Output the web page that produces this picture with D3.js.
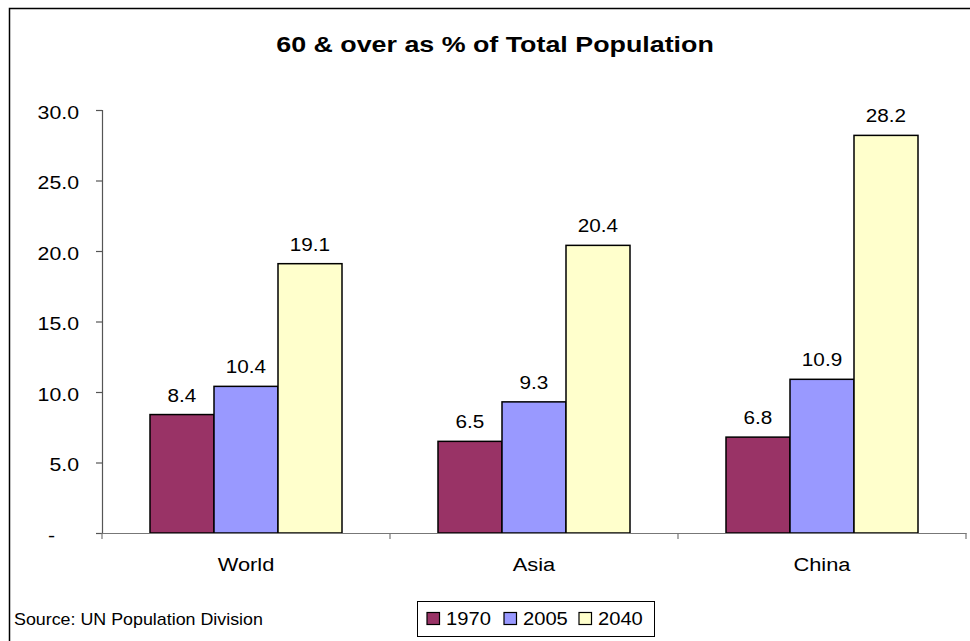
<!DOCTYPE html>
<html>
<head>
<meta charset="utf-8">
<script src="https://cdn.jsdelivr.net/npm/d3@7"></script>
<style>
  html, body { margin: 0; padding: 0; background: #fff; }
  svg { display: block; font-family: "Liberation Sans", Arial, sans-serif; }
</style>
</head>
<body>
<svg id="chart" width="970" height="641"></svg>
<script>
// Share of population aged 60 and over, by region and year
const regions = ["World", "Asia", "China"];
const years = ["1970", "2005", "2040"];
const values1970 = [8.4, 6.5, 6.8];
const values2005 = [10.4, 9.3, 10.9];
const values2040 = [19.1, 20.4, 28.2];
const yTicks = [0, 5, 10, 15, 20, 25, 30];
const colors = ["#993366", "#9999FF", "#FFFFCC"];

const seriesValues = [values1970, values2005, values2040];

const svg = d3.select("#chart");
const W = 970, H = 641;

// widen text horizontally around a chosen anchor point
function stretch(sel, sx, origin) {
  sel.style("transform-box", "fill-box")
     .style("transform-origin", origin)
     .style("transform", `scaleX(${sx})`);
}

// outer frame
svg.append("rect")
  .attr("x", 9.5).attr("y", 8.5)
  .attr("width", W).attr("height", H)
  .attr("fill", "none").attr("stroke", "#000").attr("stroke-width", 1.5);

const plot = { left: 102, right: 966, top: 110, bottom: 533 };

const x0 = d3.scaleBand().domain(regions).range([plot.left, plot.right]).paddingInner(0).paddingOuter(0);
const x1 = d3.scaleBand().domain(years).range([0, x0.bandwidth()]).paddingInner(0).paddingOuter(0.75);
const y = d3.scaleLinear().domain([0, 30]).range([plot.bottom, plot.top]);

// title
svg.append("text")
  .attr("x", 495).attr("y", 52)
  .attr("text-anchor", "middle")
  .attr("font-size", 22).attr("font-weight", "bold")
  .text("60 & over as % of Total Population")
  .call(stretch, 1.22, "center");

// y axis (zero shown as an accounting dash)
const yAxis = d3.axisLeft(y).tickValues(yTicks).tickSize(6).tickPadding(17)
  .tickFormat(d => d === 0 ? "-" : d3.format(".1f")(d));
const gy = svg.append("g").attr("transform", `translate(${plot.left},0)`).call(yAxis);
gy.select(".domain").attr("stroke", "#555").attr("stroke-width", 1.2);
gy.selectAll(".tick line").attr("stroke", "#555").attr("stroke-width", 1.2);
gy.selectAll(".tick text").attr("font-size", 18.5).attr("fill", "#000")
  .attr("font-family", "Liberation Sans, Arial, sans-serif")
  .attr("dy", "0.45em")
  .attr("dx", d => d === 0 ? -24 : 0)
  .call(stretch, 1.15, "right center");

// bars
const groups = svg.append("g").selectAll("g")
  .data(regions).join("g")
  .attr("transform", d => `translate(${x0(d)},0)`);

const cells = (r, i) => years.map((yr, j) => ({ yr, v: seriesValues[j][i], j }));

groups.selectAll("rect")
  .data(cells)
  .join("rect")
  .attr("x", d => x1(d.yr))
  .attr("y", d => y(d.v))
  .attr("width", x1.bandwidth())
  .attr("height", d => y(0) - y(d.v))
  .attr("fill", d => colors[d.j])
  .attr("stroke", "#000").attr("stroke-width", 1.5);

groups.selectAll("text.val")
  .data(cells)
  .join("text")
  .attr("class", "val")
  .attr("x", d => x1(d.yr) + x1.bandwidth() / 2)
  .attr("y", d => y(d.v) - 13)
  .attr("text-anchor", "middle")
  .attr("font-size", 18.5)
  .text(d => d3.format(".1f")(d.v))
  .call(stretch, 1.12, "center");

// x axis
const xAxis = d3.axisBottom(x0).tickSize(0).tickPadding(25);
const gx = svg.append("g").attr("transform", `translate(0,${plot.bottom})`).call(xAxis);
gx.select(".domain").attr("stroke", "#777").attr("stroke-width", 1.2);
gx.selectAll(".tick text").attr("font-size", 19).attr("fill", "#000")
  .attr("font-family", "Liberation Sans, Arial, sans-serif")
  .call(stretch, 1.15, "center");
// category boundary ticks
const bounds = regions.map(r => x0(r)).concat([plot.right]);
gx.selectAll("line.bound").data(bounds).join("line")
  .attr("class", "bound")
  .attr("x1", d => d).attr("x2", d => d)
  .attr("y1", 0).attr("y2", 6)
  .attr("stroke", "#777").attr("stroke-width", 1.2);

// source note
svg.append("text")
  .attr("x", 14).attr("y", 625)
  .attr("font-size", 17)
  .text("Source: UN Population Division")
  .call(stretch, 1.05, "left center");

// legend
const lg = svg.append("g").attr("transform", "translate(417,601)");
lg.append("rect").attr("x", 0.5).attr("y", 0.5).attr("width", 237).attr("height", 35)
  .attr("fill", "#fff").attr("stroke", "#000").attr("stroke-width", 1);
const itemX = [10, 87, 162];
years.forEach((yr, j) => {
  lg.append("rect").attr("x", itemX[j]).attr("y", 11.5).attr("width", 12.5).attr("height", 12)
    .attr("fill", colors[j]).attr("stroke", "#000").attr("stroke-width", 1.2);
  lg.append("text").attr("x", itemX[j] + 19).attr("y", 24)
    .attr("font-size", 18.5).text(yr)
    .call(stretch, 1.09, "left center");
});
</script>
</body>
</html>
